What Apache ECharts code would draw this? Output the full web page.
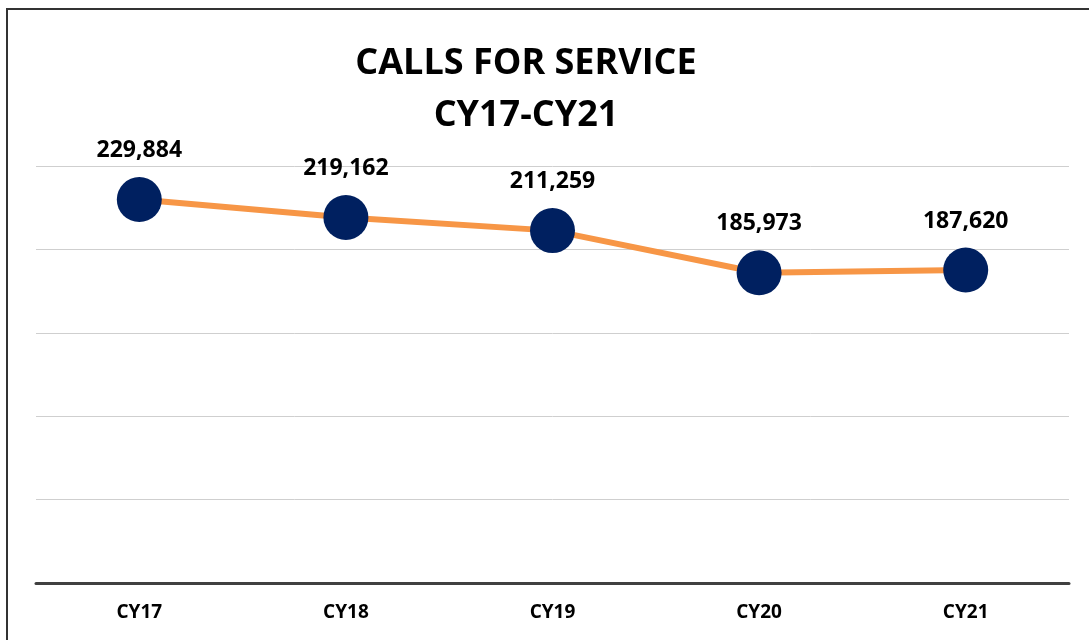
<!DOCTYPE html>
<html>
<head>
<meta charset="utf-8">
<title>Calls for Service</title>
<script src="https://cdn.jsdelivr.net/npm/echarts@6/dist/echarts.min.js"></script>
<style>
  html, body { margin: 0; padding: 0; background: #fff; }
  #chart { width: 1089px; height: 640px; }
</style>
</head>
<body>
<div id="chart"></div>
<script>
// data
var years = ["CY17", "CY18", "CY19", "CY20", "CY21"];
var calls = [229884, 219162, 211259, 185973, 187620];
var yTicks = [0, 50000, 100000, 150000, 200000, 250000];

var chart = echarts.init(document.getElementById("chart"));

chart.setOption({
  animation: false,
  backgroundColor: "#fff",
  textStyle: { fontFamily: "Open Sans" },
  title: {
    text: "CALLS FOR SERVICE\nCY17-CY21",
    left: 521,
    textAlign: "center",
    top: 33,
    textStyle: {
      fontFamily: "Open Sans",
      fontWeight: "bold",
      fontSize: 36,
      lineHeight: 52,
      color: "#000",
    },
  },
  // outer frame, the right and bottom edges run off the picture
  graphic: [
    {
      type: "rect",
      shape: { x: 7, y: 9, width: 1200, height: 800 },
      style: { fill: null, stroke: "#333", lineWidth: 2 },
      silent: true,
    },
  ],
  grid: {
    left: 36,
    right: 20,
    top: 166,
    bottom: 57,
  },
  xAxis: {
    type: "category",
    data: years,
    boundaryGap: true,
    axisTick: { show: false },
    axisLine: {
      show: true,
      lineStyle: { color: "#404040", width: 3 },
    },
    axisLabel: {
      margin: 20,
      color: "#000",
      fontWeight: "bold",
      fontSize: 19,
      fontFamily: "Open Sans",
    },
  },
  yAxis: {
    type: "value",
    min: yTicks[0],
    max: yTicks[yTicks.length - 1],
    interval: yTicks[1] - yTicks[0],
    axisLine: { show: false },
    axisTick: { show: false },
    axisLabel: { show: false },
    splitLine: {
      show: true,
      lineStyle: { color: "#cfcfcf", width: 1 },
    },
  },
  series: [
    {
      type: "line",
      data: calls,
      symbol: "circle",
      symbolSize: 45,
      lineStyle: { color: "#F79646", width: 6 },
      itemStyle: { color: "#002060" },
      z: 3,
      label: {
        show: true,
        position: "top",
        distance: 15,
        color: "#000",
        fontWeight: "bold",
        fontSize: 23,
        fontFamily: "Open Sans",
        formatter: function (p) {
          return p.value.toLocaleString("en-US");
        },
      },
    },
  ],
});
</script>
</body>
</html>
